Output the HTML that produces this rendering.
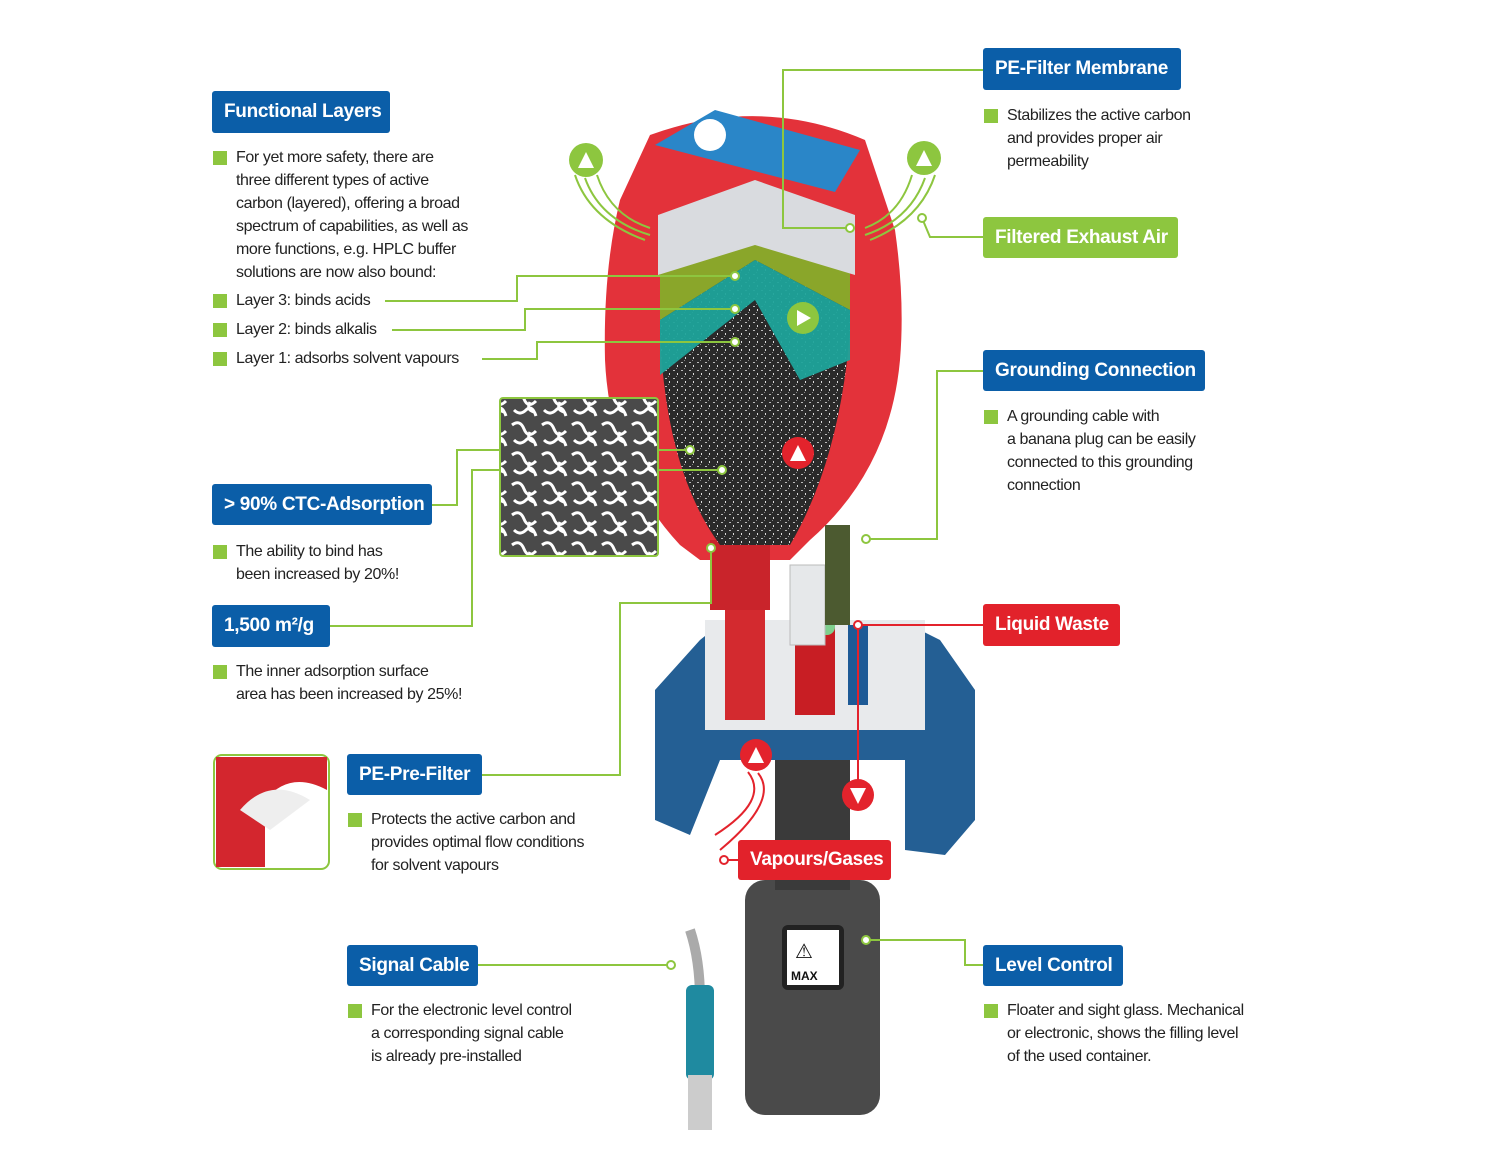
<!DOCTYPE html>
<html><head><meta charset="utf-8"><style>
body{margin:0;background:#fff;}
#c{position:relative;width:1500px;height:1154px;overflow:hidden;font-family:"Liberation Sans",sans-serif;}
.lb{position:absolute;color:#fff;font-weight:bold;font-size:19px;display:flex;align-items:center;padding-left:12px;box-sizing:border-box;border-radius:3px;letter-spacing:-0.3px;}
.b{background:#0b5ea8;}.g{background:#8dc63f;}.r{background:#e2222b;}
.t{position:absolute;font-size:16px;line-height:23px;color:#222;letter-spacing:-0.4px;}
.t .q{position:absolute;left:-23px;width:14px;height:14px;background:#8dc63f;}
svg{position:absolute;left:0;top:0;}
</style></head><body><div id="c">
<svg width="1500" height="1154" viewBox="0 0 1500 1154">
<defs>
<pattern id="noise" width="8" height="8" patternUnits="userSpaceOnUse"><rect width="8" height="8" fill="#2a2a2a"/><rect x="1" y="2" width="2" height="1" fill="#bbb"/><rect x="5" y="5" width="1" height="2" fill="#ddd"/><rect x="4" y="0" width="1" height="1" fill="#888"/></pattern>
<pattern id="micro" width="30" height="30" patternUnits="userSpaceOnUse"><rect width="30" height="30" fill="#4a4a4a"/><path d="M2 5 q8 -6 12 4 t12 2 M4 20 q6 6 12 0 t10 6 M20 12 q-4 8 4 10" stroke="#fff" stroke-width="3" fill="none"/></pattern>
</defs>
<!-- bottom container -->
<rect x="745" y="880" width="135" height="235" rx="20" fill="#4a4a4a"/>
<rect x="775" y="690" width="75" height="200" fill="#3a3a3a"/>
<rect x="782" y="925" width="62" height="65" rx="6" fill="#222"/><rect x="787" y="930" width="52" height="55" fill="#fff"/>
<text x="791" y="980" font-size="12" font-weight="bold" fill="#111">MAX</text><text x="795" y="958" font-size="20" fill="#111">⚠</text>
<!-- cable -->
<path d="M690 930 Q700 960 700 1000" stroke="#aaa" stroke-width="10" fill="none"/>
<rect x="686" y="985" width="28" height="95" rx="6" fill="#1f8aa0"/>
<rect x="688" y="1075" width="24" height="55" fill="#ccc"/>
<!-- blue cap -->
<path d="M655 690 L700 640 L725 620 L900 620 L940 640 L975 690 L975 820 L945 855 L905 850 L905 760 L720 760 L690 835 L655 820Z" fill="#245f94"/>
<rect x="705" y="620" width="220" height="110" fill="#e8eaec"/>
<rect x="725" y="570" width="40" height="150" fill="#d32a2f"/>
<rect x="795" y="620" width="40" height="95" fill="#c81e24"/><rect x="795" y="615" width="40" height="20" rx="8" fill="#7fd08e"/>
<rect x="790" y="565" width="35" height="80" fill="#e6e8ea" stroke="#bbb"/>
<rect x="825" y="525" width="25" height="100" fill="#4c5a30"/>
<rect x="848" y="625" width="20" height="80" fill="#1e5a96"/>
<!-- red housing -->
<path d="M650 135 Q760 95 865 140 L895 230 Q905 300 900 360 Q890 470 810 540 L790 560 L700 560 L680 545 Q610 470 605 360 Q603 270 620 200Z" fill="#e3323a"/>
<rect x="710" y="540" width="60" height="70" fill="#c9242b"/>
<path d="M660 250 L755 200 L850 250 L850 330 Q840 460 790 545 L720 545 Q665 470 660 330Z" fill="url(#noise)"/>
<path d="M660 250 L755 245 L850 250 L850 310 L755 260 L660 320Z" fill="#8aa62a"/>
<path d="M660 320 L755 260 L850 310 L850 360 L800 380 L755 300 L660 375Z" fill="#1ea39a" opacity="0.95"/>
<path d="M658 215 L755 180 L855 215 L855 275 L755 245 L658 275Z" fill="#d9dbdf"/>
<path d="M655 145 L715 110 L860 150 L835 192 Z" fill="#2a86c8"/>
<circle cx="710" cy="135" r="16" fill="#fff"/>
<!-- connectors (on top) -->
<g stroke="#8dc63f" stroke-width="2" fill="none">
<path d="M385 301H517V276H735"/><path d="M392 330H525V309H735"/><path d="M482 359H537V342H735"/>
<path d="M983 70H783V228H850"/><path d="M983 237H930L922 218"/><path d="M983 371H937V539H866"/>
<path d="M432 505H457V450H690"/><path d="M330 626H472V470H722"/><path d="M482 775H620V603H711V548"/>
<path d="M478 965H671"/><path d="M983 965H965V940H866"/>
</g>
<!-- green arrows circles -->
<g fill="#8dc63f"><circle cx="586" cy="160" r="17"/><circle cx="924" cy="158" r="17"/><circle cx="803" cy="318" r="16"/></g>
<g fill="#e3232c"><circle cx="798" cy="453" r="16"/><circle cx="756" cy="755" r="16"/><circle cx="858" cy="795" r="16"/></g>
<g fill="#fff"><path d="M578 168 L586 152 L594 168Z"/><path d="M916 166 L924 150 L932 166Z"/><path d="M797 326 L811 318 L797 310Z"/><path d="M790 461 L798 445 L806 461Z"/><path d="M748 763 L756 747 L764 763Z"/><path d="M850 788 L858 804 L866 788Z"/></g>
<g stroke="#8dc63f" stroke-width="2" fill="none"><path d="M575 175 Q590 220 645 240 M585 178 Q600 220 650 235 M597 175 Q610 215 650 228"/><path d="M935 175 Q920 220 870 240 M925 178 Q910 220 865 235 M912 175 Q900 215 865 228"/></g>
<g stroke="#e3232c" stroke-width="2" fill="none"><path d="M758 773 Q780 800 720 850 M748 772 Q770 800 715 835"/><path d="M858 625V780"/><path d="M738 860H724"/><path d="M983 625H858"/></g>
<!-- endpoint circles -->
<g fill="#fff" stroke="#8dc63f" stroke-width="2"><circle cx="735" cy="276" r="4"/><circle cx="735" cy="309" r="4"/><circle cx="735" cy="342" r="4"/><circle cx="850" cy="228" r="4"/><circle cx="922" cy="218" r="4"/><circle cx="866" cy="539" r="4"/><circle cx="690" cy="450" r="4"/><circle cx="722" cy="470" r="4"/><circle cx="711" cy="548" r="4"/><circle cx="671" cy="965" r="4"/><circle cx="866" cy="940" r="4"/></g>
<g fill="#fff" stroke="#e3232c" stroke-width="2"><circle cx="858" cy="625" r="4"/><circle cx="724" cy="860" r="4"/></g>
<!-- micro image -->
<rect x="500" y="398" width="158" height="158" fill="url(#micro)" stroke="#8dc63f" stroke-width="2" rx="3"/>
<!-- prefilter thumb -->
<rect x="214" y="755" width="115" height="114" rx="8" fill="#fff" stroke="#8dc63f" stroke-width="2"/>
<path d="M216 757 H327 V790 Q290 770 265 800 L265 867 H216Z" fill="#d3262e"/>
<path d="M240 810 Q270 775 310 800 L270 830Z" fill="#eee"/>
</svg>
<div class="lb b" style="left:212px;top:91px;width:178px;height:42px">Functional Layers</div>
<div class="lb b" style="left:983px;top:48px;width:198px;height:42px">PE-Filter Membrane</div>
<div class="lb g" style="left:983px;top:217px;width:195px;height:41px">Filtered Exhaust Air</div>
<div class="lb b" style="left:983px;top:350px;width:222px;height:41px">Grounding Connection</div>
<div class="lb b" style="left:212px;top:484px;width:220px;height:41px">&gt; 90% CTC-Adsorption</div>
<div class="lb b" style="left:212px;top:605px;width:118px;height:42px">1,500 m²/g</div>
<div class="lb r" style="left:983px;top:604px;width:137px;height:42px">Liquid Waste</div>
<div class="lb b" style="left:347px;top:754px;width:135px;height:41px">PE-Pre-Filter</div>
<div class="lb r" style="left:738px;top:840px;width:153px;height:40px">Vapours/Gases</div>
<div class="lb b" style="left:347px;top:945px;width:131px;height:41px">Signal Cable</div>
<div class="lb b" style="left:983px;top:945px;width:140px;height:41px">Level Control</div>
<div class="t" style="left:236px;top:146px"><span class="q" style="top:5px"></span>For yet more safety, there are<br>three different types of active<br>carbon (layered), offering a broad<br>spectrum of capabilities, as well as<br>more functions, e.g. HPLC buffer<br>solutions are now also bound:</div>
<div class="t" style="left:236px;top:289px"><span class="q" style="top:5px"></span>Layer 3: binds acids</div>
<div class="t" style="left:236px;top:318px"><span class="q" style="top:5px"></span>Layer 2: binds alkalis</div>
<div class="t" style="left:236px;top:347px"><span class="q" style="top:5px"></span>Layer 1: adsorbs solvent vapours</div>
<div class="t" style="left:1007px;top:104px"><span class="q" style="top:5px"></span>Stabilizes the active carbon<br>and provides proper air<br>permeability</div>
<div class="t" style="left:1007px;top:405px"><span class="q" style="top:5px"></span>A grounding cable with<br>a banana plug can be easily<br>connected to this grounding<br>connection</div>
<div class="t" style="left:236px;top:540px"><span class="q" style="top:5px"></span>The ability to bind has<br>been increased by 20%!</div>
<div class="t" style="left:236px;top:660px"><span class="q" style="top:5px"></span>The inner adsorption surface<br>area has been increased by 25%!</div>
<div class="t" style="left:371px;top:808px"><span class="q" style="top:5px"></span>Protects the active carbon and<br>provides optimal flow conditions<br>for solvent vapours</div>
<div class="t" style="left:371px;top:999px"><span class="q" style="top:5px"></span>For the electronic level control<br>a corresponding signal cable<br>is already pre-installed</div>
<div class="t" style="left:1007px;top:999px"><span class="q" style="top:5px"></span>Floater and sight glass. Mechanical<br>or electronic, shows the filling level<br>of the used container.</div>
</div></body></html>
